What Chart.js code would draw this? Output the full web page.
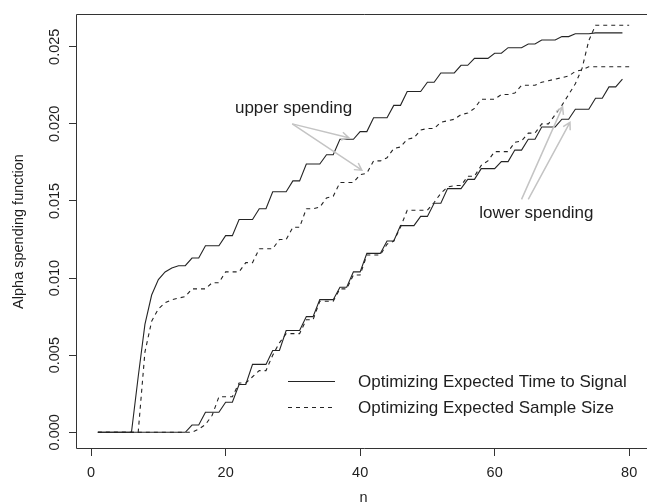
<!DOCTYPE html>
<html>
<head>
<meta charset="utf-8">
<script src="https://cdn.jsdelivr.net/npm/chart.js@4.4.1/dist/chart.umd.min.js"></script>
<style>
  html, body { margin: 0; padding: 0; background: #fff; overflow: hidden; }
  canvas { display: block; }
</style>
</head>
<body>
<canvas id="alphaChart" width="652" height="502"></canvas>
<script>
// n (looks) on the x axis
const n = [1, 2, 3, 4, 5, 6, 7, 8, 9, 10, 11, 12, 13, 14, 15, 16, 17, 18, 19, 20,
    21, 22, 23, 24, 25, 26, 27, 28, 29, 30, 31, 32, 33, 34, 35, 36, 37, 38, 39, 40,
    41, 42, 43, 44, 45, 46, 47, 48, 49, 50, 51, 52, 53, 54, 55, 56, 57, 58, 59, 60,
    61, 62, 63, 64, 65, 66, 67, 68, 69, 70, 71, 72, 73, 74, 75, 76, 77, 78, 79, 80];

// Optimizing Expected Time to Signal (solid)
const upperTime = [0, 0, 0, 0, 0, 0, 0.0036, 0.0070, 0.0089, 0.0099,
    0.0104, 0.01065, 0.0108, 0.0108, 0.0113, 0.0113, 0.0121, 0.0121, 0.0121, 0.01275,
    0.01275, 0.0138, 0.0138, 0.0138, 0.0145, 0.0145, 0.0156, 0.0156, 0.0156, 0.0163,
    0.0163, 0.0174, 0.0174, 0.0174, 0.0180, 0.0180, 0.0190, 0.0190, 0.0190, 0.0195,
    0.0195, 0.0204, 0.0204, 0.0204, 0.0212, 0.0212, 0.0221, 0.0221, 0.0221, 0.0227,
    0.0227, 0.0233, 0.0233, 0.0233, 0.0238, 0.0238, 0.02425, 0.02425, 0.02425, 0.02458,
    0.02458, 0.02494, 0.02494, 0.02494, 0.02518, 0.02518, 0.02544, 0.02544, 0.02544, 0.02566,
    0.02566, 0.02584, 0.02584, 0.02584, 0.0259, 0.0259, 0.0259, 0.0259, 0.0259];

const lowerTime = [0, 0, 0, 0, 0, 0, 0, 0, 0, 0,
    0, 0, 0, 0, 0.00047, 0.00047, 0.0013, 0.0013, 0.0013, 0.00195,
    0.00195, 0.0031, 0.0031, 0.0044, 0.0044, 0.0044, 0.0053, 0.0053, 0.0066, 0.0066,
    0.0066, 0.0075, 0.0075, 0.0086, 0.0086, 0.0086, 0.0094, 0.0094, 0.0104, 0.0104,
    0.0116, 0.0116, 0.0116, 0.0124, 0.0124, 0.0134, 0.0134, 0.0134, 0.0140, 0.0140,
    0.01485, 0.01485, 0.0158, 0.0158, 0.0158, 0.0164, 0.0164, 0.0171, 0.0171, 0.0171,
    0.01755, 0.01755, 0.0183, 0.0183, 0.0190, 0.0190, 0.0198, 0.0198, 0.0198, 0.0203,
    0.0203, 0.02095, 0.02095, 0.02095, 0.02166, 0.02166, 0.0224, 0.0224, 0.0229];

// Optimizing Expected Sample Size (dashed)
const upperSize = [0, 0, 0, 0, 0, 0, 0, 0.0052, 0.0072, 0.0080,
    0.0084, 0.0086, 0.0087, 0.0088, 0.0093, 0.0093, 0.0093, 0.0097, 0.0097, 0.0104,
    0.0104, 0.0104, 0.0110, 0.0110, 0.0119, 0.0119, 0.0119, 0.0125, 0.0125, 0.0133,
    0.0133, 0.0145, 0.0145, 0.0146, 0.0152, 0.0153, 0.0162, 0.0162, 0.0162, 0.0167,
    0.0168, 0.0176, 0.0176, 0.0178, 0.0184, 0.0185, 0.0190, 0.0191, 0.0196, 0.0197,
    0.0197, 0.0201, 0.0202, 0.0203, 0.0206, 0.0207, 0.0210, 0.0216, 0.0216, 0.0216,
    0.0219, 0.0219, 0.0220, 0.0225, 0.0225, 0.0225, 0.0227, 0.0228, 0.0229, 0.0230,
    0.0231, 0.0234, 0.0235, 0.0237, 0.0237, 0.0237, 0.0237, 0.0237, 0.0237, 0.0237];

const lowerSize = [0, 0, 0, 0, 0, 0, 0, 0, 0, 0,
    0, 0, 0, 0, 0, 0.0002, 0.0005, 0.0011, 0.0023, 0.0023,
    0.0023, 0.0032, 0.0032, 0.0036, 0.0040, 0.0040, 0.0050, 0.0058, 0.0064, 0.0064,
    0.0064, 0.0073, 0.0073, 0.0085, 0.0085, 0.0085, 0.0093, 0.0093, 0.0102, 0.0102,
    0.0115, 0.0115, 0.0115, 0.0122, 0.0124, 0.0133, 0.0144, 0.0144, 0.0144, 0.0144,
    0.0149, 0.0155, 0.0159, 0.0160, 0.0160, 0.0166, 0.0166, 0.0173, 0.0176, 0.0182,
    0.0182, 0.0182, 0.0188, 0.0189, 0.0194, 0.0194, 0.0200, 0.0200, 0.0206, 0.0212,
    0.0219, 0.0226, 0.0236, 0.0254, 0.0264, 0.0264, 0.0264, 0.0264, 0.0264, 0.0264];

const xTicks = [0, 20, 40, 60, 80];
const yTicks = [0, 0.005, 0.010, 0.015, 0.020, 0.025];
const legendLabels = ['Optimizing Expected Time to Signal', 'Optimizing Expected Sample Size'];

const FONT = '"Liberation Sans", Arial, Helvetica, sans-serif';
const INK = '#1e1e1e';
const LINE = '#242424';
const ARROW = '#c4c4c4';

function pts(vals) {
    return vals.map((v, i) => ({ x: n[i], y: v }));
}

// text + arrows, in data units
const notes = [
    { text: 'upper spending', at: [30.1, 0.0210],
      arrows: [[[29.9, 0.0200], [38.3, 0.0191]], [[29.9, 0.0200], [40.25, 0.0170]]] },
    { text: 'lower spending', at: [66.2, 0.0142],
      arrows: [[[64.0, 0.0151], [70.1, 0.0211]], [[65.0, 0.0151], [71.2, 0.0201]]] }
];

function arrow(ctx, x0, y0, x1, y1) {
    const a = Math.atan2(y1 - y0, x1 - x0);
    const len = 8, spread = Math.PI / 6;
    ctx.beginPath();
    ctx.moveTo(x0, y0);
    ctx.lineTo(x1, y1);
    ctx.moveTo(x1 - len * Math.cos(a - spread), y1 - len * Math.sin(a - spread));
    ctx.lineTo(x1, y1);
    ctx.lineTo(x1 - len * Math.cos(a + spread), y1 - len * Math.sin(a + spread));
    ctx.stroke();
}

const extras = {
    id: 'extras',
    afterDatasetsDraw(chart) {
        const { ctx, chartArea: ca, scales: { x, y } } = chart;
        const W = chart.width;
        ctx.save();
        // frame: the right side falls outside the picture
        ctx.strokeStyle = '#333';
        ctx.lineWidth = 1;
        ctx.beginPath();
        ctx.moveTo(W, ca.top - 0.5);
        ctx.lineTo(ca.left - 0.5, ca.top - 0.5);
        ctx.lineTo(ca.left - 0.5, ca.bottom + 0.5);
        ctx.lineTo(W, ca.bottom + 0.5);
        ctx.stroke();

        // annotations
        ctx.strokeStyle = ARROW;
        ctx.lineWidth = 1.5;
        notes.forEach(nt => {
            nt.arrows.forEach(([p, q]) => {
                arrow(ctx, x.getPixelForValue(p[0]), y.getPixelForValue(p[1]),
                      x.getPixelForValue(q[0]), y.getPixelForValue(q[1]));
            });
        });
        ctx.fillStyle = INK;
        ctx.font = '17px ' + FONT;
        ctx.textAlign = 'center';
        ctx.textBaseline = 'middle';
        notes.forEach(nt => {
            ctx.fillText(nt.text, x.getPixelForValue(nt.at[0]), y.getPixelForValue(nt.at[1]));
        });

        // legend (bottom right inside the box)
        const rows = [381.5, 407.5];
        chart.data.datasets.slice(0, 2).forEach((ds, i) => {
            ctx.strokeStyle = LINE;
            ctx.lineWidth = 1;
            ctx.setLineDash(ds.borderDash || []);
            ctx.beginPath();
            ctx.moveTo(288, rows[i]);
            ctx.lineTo(335, rows[i]);
            ctx.stroke();
            ctx.setLineDash([]);
            ctx.textAlign = 'left';
            ctx.fillText(legendLabels[i], 358, rows[i] + 0.5);
        });
        ctx.restore();
    }
};

const ctx = document.getElementById('alphaChart');

new Chart(ctx, {
    type: 'line',
    data: {
        datasets: [
            { label: legendLabels[0], data: pts(upperTime), borderColor: LINE, borderWidth: 1.1 },
            { label: legendLabels[1], data: pts(upperSize), borderColor: LINE, borderWidth: 1.1, borderDash: [4, 4] },
            { label: 'lower time', data: pts(lowerTime), borderColor: LINE, borderWidth: 1.1 },
            { label: 'lower size', data: pts(lowerSize), borderColor: LINE, borderWidth: 1.1, borderDash: [4, 4] }
        ]
    },
    options: {
        responsive: false,
        devicePixelRatio: 1,
        animation: false,
        events: [],
        layout: { padding: { top: 15, right: 2, left: 0, bottom: 0 } },
        elements: { point: { radius: 0 }, line: { tension: 0 } },
        plugins: { legend: { display: false }, tooltip: { enabled: false } },
        scales: {
            x: {
                type: 'linear',
                min: -2.1,
                max: 83.1,
                afterBuildTicks: s => { s.ticks = xTicks.map(v => ({ value: v })); },
                afterFit: s => { s.height = 54; },
                grid: { drawOnChartArea: false, drawTicks: true, tickLength: 8, tickColor: '#333' },
                border: { display: false },
                ticks: { color: INK, font: { family: FONT, size: 14.5 }, padding: 8, maxRotation: 0, callback: v => String(v) },
                title: { display: true, text: 'n', color: INK, font: { family: FONT, size: 14.5, lineHeight: 1 }, padding: { top: 0, bottom: -3 } }
            },
            y: {
                type: 'linear',
                min: -0.00102,
                max: 0.02706,
                afterBuildTicks: s => { s.ticks = yTicks.map(v => ({ value: v })); },
                afterFit: s => { s.width = 77; },
                grid: { drawOnChartArea: false, drawTicks: true, tickLength: 8, tickColor: '#333' },
                border: { display: false },
                ticks: { color: INK, font: { family: FONT, size: 14.5 }, padding: -4, minRotation: 90, maxRotation: 90,
                         crossAlign: 'center', callback: v => v.toFixed(3) },
                title: { display: true, text: 'Alpha spending function', color: INK, font: { family: FONT, size: 14.5, lineHeight: 1 }, padding: { top: 12, bottom: 0 } }
            }
        }
    },
    plugins: [extras]
});
</script>
</body>
</html>
